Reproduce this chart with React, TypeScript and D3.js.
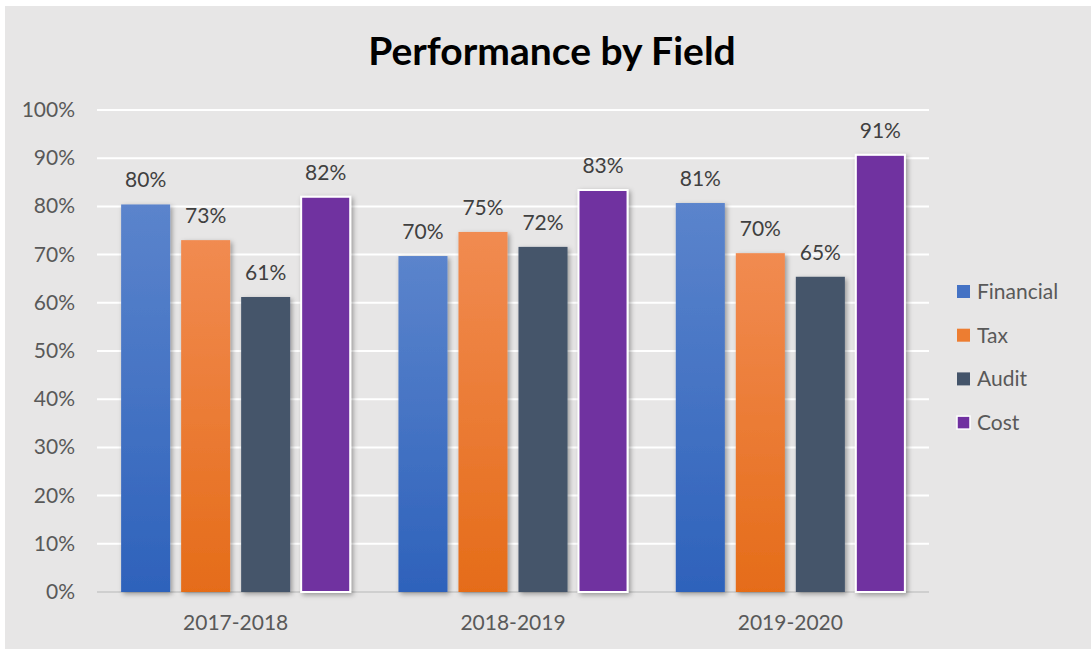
import React, { useEffect, useRef } from 'react'
import * as d3 from 'd3'

const periods = ['2017-2018', '2018-2019', '2019-2020']
const fields = ['Financial', 'Tax', 'Audit', 'Cost']
const financial = [0.804, 0.697, 0.807]
const tax = [0.73, 0.747, 0.703]
const audit = [0.612, 0.716, 0.654]
const cost = [0.82, 0.834, 0.907]
const yTicks = [0, 0.1, 0.2, 0.3, 0.4, 0.5, 0.6, 0.7, 0.8, 0.9, 1]

const seriesValues = [financial, tax, audit, cost]
const fills = ['url(#gFin)', 'url(#gTax)', '#44546a', '#7030a0']
const legendFills = ['#4472c4', '#ed7d31', '#44546a', '#7030a0']

const W = 1091
const H = 649
const margin = { top: 110, right: 162, bottom: 57, left: 97 }
const FONT = 'Lato, Carlito, "Open Sans", sans-serif'
const FS = 21

const App = () => {
  const ref = useRef<SVGSVGElement>(null)

  useEffect(() => {
    const svg = d3.select(ref.current)
    svg.selectAll('*').remove()

    const defs = svg.append('defs')
    const grad = (id: string, top: string, bottom: string) => {
      const g = defs.append('linearGradient').attr('id', id)
        .attr('x1', 0).attr('y1', 0).attr('x2', 0).attr('y2', 1)
      g.append('stop').attr('offset', '0%').attr('stop-color', top)
      g.append('stop').attr('offset', '100%').attr('stop-color', bottom)
    }
    grad('gFin', '#5b84cc', '#2e62bb')
    grad('gTax', '#f18b51', '#e56c19')
    const f = defs.append('filter').attr('id', 'shadow')
      .attr('x', '-20%').attr('y', '-10%').attr('width', '140%').attr('height', '120%')
    f.append('feDropShadow').attr('dx', 2).attr('dy', 2).attr('stdDeviation', 2.5)
      .attr('flood-color', '#000').attr('flood-opacity', 0.35)

    // background
    svg.append('rect').attr('x', 0).attr('y', 0).attr('width', W).attr('height', H).attr('fill', '#ffffff')
    svg.append('rect').attr('x', 5).attr('y', 6).attr('width', W - 5).attr('height', H - 6).attr('fill', '#e7e6e6')

    const innerW = W - margin.left - margin.right
    const innerH = H - margin.top - margin.bottom

    const x0 = d3.scaleBand().domain(periods).range([0, innerW]).paddingInner(0.174).paddingOuter(0.087)
    const x1 = d3.scaleBand().domain(fields).range([0, x0.bandwidth()]).paddingInner(0.183)
    const y = d3.scaleLinear().domain([0, 1]).range([innerH, 0])

    svg.append('text')
      .attr('x', 552).attr('y', 65)
      .attr('text-anchor', 'middle')
      .attr('font-family', FONT).attr('font-weight', 'bold').attr('font-size', 39)
      .attr('fill', '#000')
      .text('Performance by Field')

    const g = svg.append('g').attr('transform', `translate(${margin.left},${margin.top})`)

    // gridlines
    g.selectAll('line.grid').data(yTicks.filter(t => t > 0)).enter().append('line')
      .attr('class', 'grid')
      .attr('x1', 0).attr('x2', innerW)
      .attr('y1', d => y(d)).attr('y2', d => y(d))
      .attr('stroke', '#ffffff').attr('stroke-width', 2)

    g.append('line')
      .attr('x1', 0).attr('x2', innerW)
      .attr('y1', y(0)).attr('y2', y(0))
      .attr('stroke', '#cfcfcf').attr('stroke-width', 2)

    // y labels
    g.selectAll('text.ytick').data(yTicks).enter().append('text')
      .attr('class', 'ytick')
      .attr('x', -22).attr('y', d => y(d) + 7)
      .attr('text-anchor', 'end')
      .attr('font-family', FONT).attr('font-size', FS).attr('fill', '#595959')
      .text(d => d3.format('.0%')(d))

    // bars
    periods.forEach((p, i) => {
      const grp = g.append('g').attr('transform', `translate(${x0(p)},0)`)
      fields.forEach((fName, s) => {
        const v = seriesValues[s][i]
        grp.append('rect')
          .attr('x', x1(fName)!)
          .attr('y', y(v))
          .attr('width', x1.bandwidth())
          .attr('height', y(0) - y(v))
          .attr('fill', fills[s])
          .attr('stroke', s === 3 ? '#ffffff' : 'none')
          .attr('stroke-width', s === 3 ? 2 : 0)
          .attr('filter', 'url(#shadow)')
        grp.append('text')
          .attr('x', x1(fName)! + x1.bandwidth() / 2)
          .attr('y', y(v) - 17)
          .attr('text-anchor', 'middle')
          .attr('font-family', FONT).attr('font-size', FS).attr('fill', '#404040')
          .text(d3.format('.0%')(v))
      })
      g.append('text')
        .attr('x', x0(p)! + x0.bandwidth() / 2)
        .attr('y', innerH + 38)
        .attr('text-anchor', 'middle')
        .attr('font-family', FONT).attr('font-size', FS).attr('fill', '#595959')
        .text(p)
    })

    // legend
    const lg = svg.append('g').attr('transform', 'translate(957,285)')
    fields.forEach((fName, i) => {
      lg.append('rect')
        .attr('x', 0).attr('y', i * 43.7)
        .attr('width', 13).attr('height', 13)
        .attr('fill', legendFills[i])
        .attr('stroke', i === 3 ? '#ffffff' : 'none').attr('stroke-width', 1.5)
      lg.append('text')
        .attr('x', 20).attr('y', i * 43.7 + 14)
        .attr('font-family', FONT).attr('font-size', FS).attr('fill', '#595959')
        .text(fName)
    })
  }, [])

  return (
    <div style={{ position: 'absolute', left: 0, top: 0 }}>
      <svg ref={ref} width={W} height={H} style={{ display: 'block' }}></svg>
    </div>
  )
}

export default App
